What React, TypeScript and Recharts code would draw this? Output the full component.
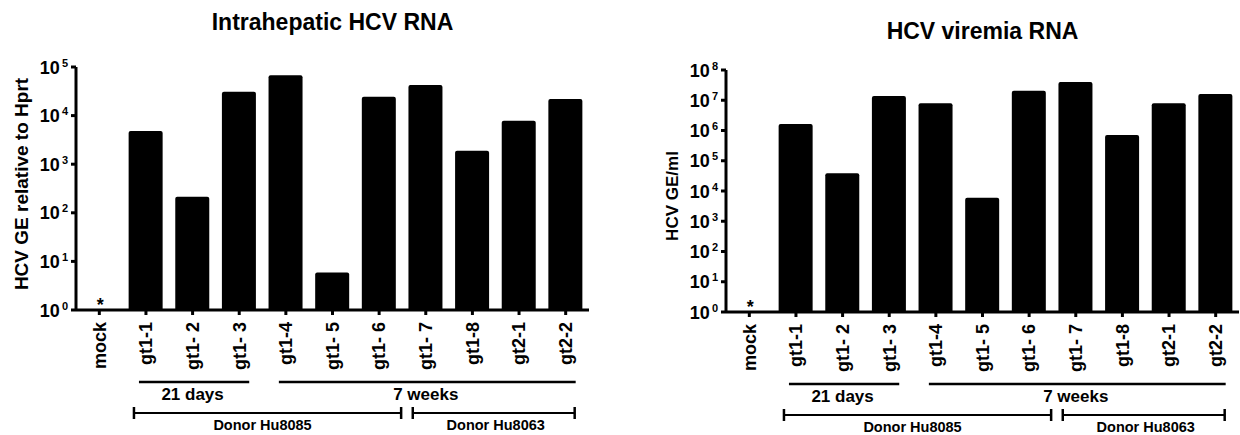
import { BarChart, Bar, XAxis, YAxis, Label } from "recharts";

// samples (x categories)
const samples = ["mock", "gt1-1", "gt1- 2", "gt1- 3", "gt1-4", "gt1- 5", "gt1- 6", "gt1- 7", "gt1-8", "gt2-1", "gt2-2"];

// HCV GE relative to Hprt (mock below detection)
const intrahepaticRna = [null, 4800, 215, 31000, 68000, 5.9, 24500, 42500, 1900, 7800, 22000];

// HCV GE/ml
const viremiaRna = [null, 1640000, 38500, 13800000, 7900000, 6000, 20700000, 40000000, 710000, 7900000, 16000000];

// marks drawn on the baseline
const notes = ["*", "", "", "", "", "", "", "", "", "", ""];

const intrahepaticTicks = [1, 10, 100, 1000, 10000, 100000];
const viremiaTicks = [1, 10, 100, 1000, 10000, 100000, 1000000, 10000000, 100000000];

const timeGroups = [
  { label: "21 days", from: "gt1-1", to: "gt1- 3" },
  { label: "7 weeks", from: "gt1-4", to: "gt2-2" },
];

const donorGroups = [
  { label: "Donor Hu8085", from: "gt1-1", to: "gt1- 6" },
  { label: "Donor Hu8063", from: "gt1- 7", to: "gt2-2" },
];

const FONT = '"Liberation Sans", Arial, Helvetica, sans-serif';
const TIME_PAD = [-7, 10];
const DONOR_PAD = [
  [-12, 22],
  [-13, 9],
];

function makeXTick(bw: number) {
  return function XTick(props: any) {
    const { x, y, payload } = props;
    const name = payload.value;
    const i = samples.indexOf(name);
    const axisY = y - 10;
    const spanTo = (to: string) => (samples.indexOf(to) - i) * bw;

    return (
      <g>
        <text
          transform={`translate(${x},${y + 2}) rotate(-90)`}
          textAnchor="end"
          dy="0.35em"
          fontFamily={FONT}
          fontWeight={700}
          fontSize={18}
          fill="#000"
        >
          {name}
        </text>
        {notes[i] && (
          <text x={x + 1} y={axisY + 1} textAnchor="middle" fontFamily={FONT} fontWeight={700} fontSize={18} fill="#000">
            {notes[i]}
          </text>
        )}
        {timeGroups
          .filter((g) => g.from === name)
          .map((g) => {
            const w = spanTo(g.to);
            return (
              <g key={g.label}>
                <line x1={x + TIME_PAD[0]} x2={x + w + TIME_PAD[1]} y1={axisY + 72} y2={axisY + 72} stroke="#000" strokeWidth={2.5} />
                <text x={x + w / 2} y={axisY + 90} textAnchor="middle" fontFamily={FONT} fontWeight={700} fontSize={17} fill="#000">
                  {g.label}
                </text>
              </g>
            );
          })}
        {donorGroups.map((g, k) => {
          if (g.from !== name) return null;
          const w = spanTo(g.to);
          const x1 = x + DONOR_PAD[k][0];
          const x2 = x + w + DONOR_PAD[k][1];
          const ly = axisY + 103;
          return (
            <g key={g.label}>
              <line x1={x1} x2={x2} y1={ly} y2={ly} stroke="#000" strokeWidth={2} />
              <line x1={x1} x2={x1} y1={ly - 6} y2={ly + 6} stroke="#000" strokeWidth={2.5} />
              <line x1={x2} x2={x2} y1={ly - 6} y2={ly + 6} stroke="#000" strokeWidth={2.5} />
              <text x={x + w / 2} y={axisY + 120} textAnchor="middle" fontFamily={FONT} fontWeight={700} fontSize={14.5} fill="#000">
                {g.label}
              </text>
            </g>
          );
        })}
      </g>
    );
  };
}

function YTick(props: any) {
  const { x, y, payload } = props;
  const exp = Math.round(Math.log10(payload.value));
  return (
    <text x={x} y={y} dy={6.5} textAnchor="end" fontFamily={FONT} fontWeight={700} fontSize={18} fill="#000">
      10
      <tspan dx={2} dy={-7} fontSize={11}>
        {exp}
      </tspan>
    </text>
  );
}

type PanelProps = {
  left: number;
  width: number;
  title: string;
  titleTop: number;
  yLabel: string;
  yLabelCenter: number;
  yLabelSize: number;
  values: (number | null)[];
  ticks: number[];
  top: number;
  bottom: number;
  right: number;
};

function Panel(p: PanelProps) {
  const data = samples.map((name, i) => ({ name, value: p.values[i] }));
  const yAxisWidth = 70;
  const marginLeft = 6;
  const plotWidth = p.width - marginLeft - yAxisWidth - p.right;
  const bw = plotWidth / samples.length;
  const XTick = makeXTick(bw);

  return (
    <div style={{ position: "absolute", left: p.left, top: 0, width: p.width, height: 435 }}>
      <div
        style={{
          position: "absolute",
          left: 76 + plotWidth / 2 - 200,
          top: p.titleTop,
          width: 400,
          textAlign: "center",
          fontFamily: FONT,
          fontWeight: 700,
          fontSize: 23,
          lineHeight: "23px",
          color: "#000",
        }}
      >
        {p.title}
      </div>
      <BarChart
        width={p.width}
        height={435}
        data={data}
        margin={{ top: p.top, right: p.right, bottom: 5, left: marginLeft }}
        barSize={34}
      >
        <XAxis
          dataKey="name"
          interval={0}
          height={435 - p.bottom - 5}
          tick={<XTick />}
          tickSize={5}
          tickMargin={5}
          tickLine={{ stroke: "#000", strokeWidth: 3 }}
          axisLine={{ stroke: "#000", strokeWidth: 3 }}
        />
        <YAxis
          width={yAxisWidth}
          type="number"
          scale="log"
          domain={[p.ticks[0], p.ticks[p.ticks.length - 1]]}
          ticks={p.ticks}
          interval={0}
          allowDataOverflow
          tick={<YTick />}
          tickSize={5}
          tickMargin={3}
          tickLine={{ stroke: "#000", strokeWidth: 3 }}
          axisLine={{ stroke: "#000", strokeWidth: 3 }}
        >
          <Label
            content={() => (
              <text
                transform={`translate(28,${p.yLabelCenter}) rotate(-90)`}
                textAnchor="middle"
                fontFamily={FONT}
                fontWeight={700}
                fontSize={p.yLabelSize}
                fill="#000"
              >
                {p.yLabel}
              </text>
            )}
          />
        </YAxis>
        <Bar dataKey="value" fill="#000" radius={[2, 2, 0, 0]} isAnimationActive={false} />
      </BarChart>
    </div>
  );
}

export default function App() {
  return (
    <div style={{ position: "absolute", left: 0, top: 0, width: 1240, height: 435, overflow: "hidden", background: "#fff" }}>
      <Panel
        left={0}
        width={620}
        title="Intrahepatic HCV RNA"
        titleTop={11}
        yLabel="HCV GE relative to Hprt"
        yLabelCenter={184}
        yLabelSize={19}
        values={intrahepaticRna}
        ticks={intrahepaticTicks}
        top={67}
        bottom={310}
        right={31}
      />
      <Panel
        left={650}
        width={590}
        title="HCV viremia RNA"
        titleTop={20}
        yLabel="HCV GE/ml"
        yLabelCenter={196}
        yLabelSize={17}
        values={viremiaRna}
        ticks={viremiaTicks}
        top={70}
        bottom={312}
        right={1}
      />
    </div>
  );
}
